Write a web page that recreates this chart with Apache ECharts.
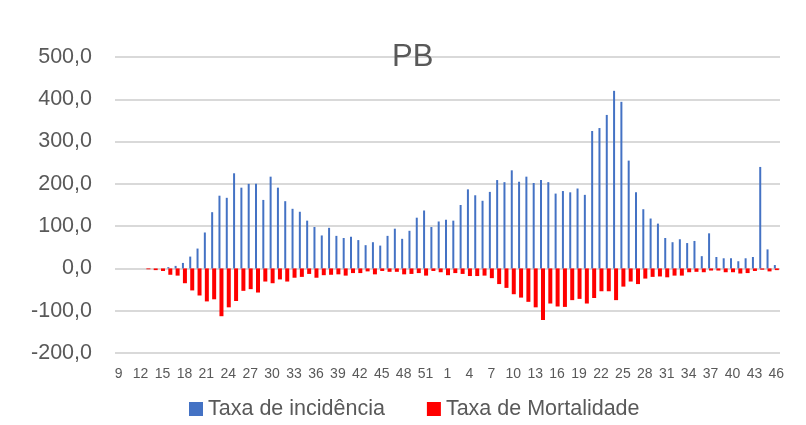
<!DOCTYPE html>
<html>
<head>
<meta charset="utf-8">
<script src="https://cdn.jsdelivr.net/npm/echarts@6/dist/echarts.min.js"></script>
<style>
html,body{margin:0;padding:0;background:#fff;}
#chart{width:806px;height:425px;}
</style>
</head>
<body>
<div id="chart"></div>
<script>
// Epidemiological weeks: 9..53 (2020) then 1..46 (2021)
const categories = [
  '9','10','11','12','13','14','15','16','17','18','19','20','21','22','23','24','25','26','27','28',
  '29','30','31','32','33','34','35','36','37','38','39','40','41','42','43','44','45','46','47','48',
  '49','50','51','52','53',
  '1','2','3','4','5','6','7','8','9','10','11','12','13','14','15','16','17','18','19','20',
  '21','22','23','24','25','26','27','28','29','30','31','32','33','34','35','36','37','38','39','40',
  '41','42','43','44','45','46'
];

const taxaIncidencia = [
  0,0,0,0,0,0,0,3,6,13,28,47,85,133,172,167,225,191,200,200,
  162,217,191,159,141,134,113,98,78,96,77,72,75,67,55,62,54,77,94,70,
  89,120,137,98,111,
  115,113,150,187,173,160,181,209,204,232,205,217,202,209,204,177,183,180,189,174,
  325,332,363,420,394,255,180,140,118,106,72,62,69,60,65,29,83,27,24,24,
  17,24,27,240,45,8
];

const taxaMortalidade = [
  0,0,0,0,-2,-4,-6,-15,-17,-35,-52,-64,-78,-73,-113,-92,-77,-53,-49,-57,
  -31,-35,-26,-31,-22,-20,-13,-22,-16,-15,-14,-17,-11,-11,-7,-14,-6,-8,-8,-14,
  -13,-11,-17,-6,-9,
  -16,-11,-13,-18,-18,-17,-23,-37,-46,-61,-69,-79,-92,-122,-83,-90,-91,-75,-72,-83,
  -70,-54,-54,-75,-43,-31,-37,-24,-20,-19,-21,-17,-17,-9,-8,-9,-5,-5,-9,-9,
  -12,-11,-6,-3,-7,-4
];

const yTicks = { min: -200, max: 500, interval: 100 };

const chart = echarts.init(document.getElementById('chart'), null, { renderer: 'canvas' });
const FONT = 'Liberation Sans';
const TXT = '#595959';

chart.setOption({
  animation: false,
  title: {
    text: 'PB',
    left: 392,
    top: 42,
    padding: 0,
    textStyle: { fontFamily: FONT, fontSize: 31, fontWeight: 'normal', color: TXT }
  },
  legend: {
    left: 189,
    top: 398,
    padding: 0,
    icon: 'rect',
    itemWidth: 14,
    itemHeight: 14,
    itemGap: 42,
    textStyle: { fontFamily: FONT, fontSize: 21.5, color: TXT, padding: [0, 0, 0, 0] },
    data: ['Taxa de incidência', 'Taxa de Mortalidade']
  },
  grid: { left: 115, right: 26, top: 57, bottom: 72 },
  xAxis: {
    type: 'category',
    data: categories,
    position: 'bottom',
    axisLine: { show: false, onZero: false },
    axisTick: { show: false },
    axisLabel: {
      interval: 2,
      fontFamily: FONT,
      fontSize: 14,
      color: TXT,
      margin: 14
    },
    splitLine: { show: false }
  },
  yAxis: {
    type: 'value',
    min: yTicks.min,
    max: yTicks.max,
    interval: yTicks.interval,
    axisLine: { show: false },
    axisTick: { show: false },
    axisLabel: {
      fontFamily: FONT,
      fontSize: 21.5,
      color: TXT,
      margin: 23,
      padding: [3, 0, 0, 0],
      formatter: v => v.toFixed(1).replace('.', ',')
    },
    splitLine: { lineStyle: { color: '#d9d9d9', width: 2 } }
  },
  series: [
    {
      name: 'Taxa de incidência',
      type: 'bar',
      data: taxaIncidencia,
      barWidth: 2,
      barGap: '-50%',
      itemStyle: { color: '#4472C4' }
    },
    {
      name: 'Taxa de Mortalidade',
      type: 'bar',
      data: taxaMortalidade,
      barWidth: 4,
      barGap: '-50%',
      itemStyle: { color: '#FF0000' }
    }
  ]
});
</script>
</body>
</html>
